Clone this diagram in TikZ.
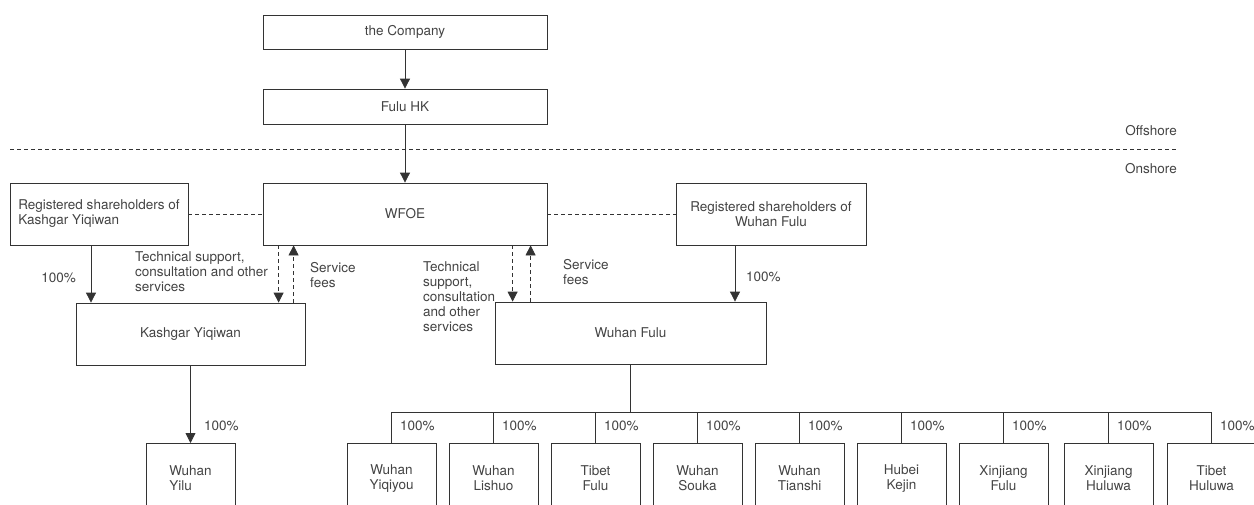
\documentclass[tikz,border=0pt]{standalone}
\usepackage{fontspec}
\setmainfont{TeX Gyre Heros}
\usetikzlibrary{arrows.meta}
\definecolor{ln}{HTML}{333333}
\definecolor{tx}{HTML}{444444}
\begin{document}
\begin{tikzpicture}[x=1pt,y=-1pt,bx/.style={draw=ln,line width=0.8pt,fill=white,text=tx,inner sep=2pt,align=center,font=\fontsize{13.5}{15}\selectfont},lb/.style={text=tx,inner sep=0pt,align=left,font=\fontsize{13.5}{15}\selectfont},ch/.style={bx,minimum width=89pt,minimum height=70pt,anchor=north},ar/.style={draw=ln,line width=0.8pt,-{Triangle[length=10pt,width=10pt]}},dl/.style={draw=ln,line width=0.8pt,dash pattern=on 4pt off 3pt},da/.style={dl,-{Triangle[length=10pt,width=10pt]}}]
\useasboundingbox (0,0) rectangle (1254,504);
\clip (0,0) rectangle (1254,504);
\fill[white] (0,0) rectangle (1254,504);

% top of the chart
\node[bx,minimum width=284pt,minimum height=34pt] (comp) at (405,32) {the Company};
\node[bx,minimum width=284pt,minimum height=35pt] (hk) at (405,106.5) {Fulu HK};
\node[bx,minimum width=284pt,minimum height=62pt] (wfoe) at (405,214) {WFOE};
\node[bx,minimum width=178pt,minimum height=62pt,align=left] (regk) at (99,214) {Registered shareholders of\\Kashgar Yiqiwan};
\node[bx,minimum width=190pt,minimum height=62pt] (regw) at (771,214) {Registered shareholders of\\Wuhan Fulu};
\node[bx,minimum width=229pt,minimum height=62pt] (kash) at (190.5,334) {Kashgar Yiqiwan};
\node[bx,minimum width=271pt,minimum height=62pt] (wfulu) at (630.5,333) {Wuhan Fulu};

% offshore / onshore
\coordinate (sl) at (10,149);
\coordinate (sr) at (1176,149);
\draw[dl] (sl) -- (sr);
\node[lb,anchor=east] (off) at (1177,131) {Offshore};
\node[lb,anchor=east] (on) at (1177,169) {Onshore};

\draw[ar] (comp) -- (hk);
\draw[ar] (hk) -- (wfoe);
\draw[dl] (regk) -- (wfoe);
\draw[dl] (wfoe) -- (regw);

% Kashgar Yiqiwan side
\draw[ar] ([xshift=-8pt]regk.south) -- ([xshift=-8pt]regk.south |- kash.north);
\draw[da] ([xshift=16pt]wfoe.south west) -- ([xshift=16pt]wfoe.south west |- kash.north);
\draw[da] ([xshift=31pt]wfoe.south west |- kash.north) -- ([xshift=31pt]wfoe.south west);
\node[lb,anchor=east] (pk) at (76,278) {100\%};
\node[lb,anchor=west] (tk) at (135,272) {Technical support,\\consultation and other\\services};
\node[lb,anchor=west] (fk) at (310,275.5) {Service\\fees};

% Wuhan Fulu side
\draw[ar] ([xshift=-36pt]regw.south) -- ([xshift=-36pt]regw.south |- wfulu.north);
\draw[da] ([xshift=18pt]wfulu.north west |- wfoe.south) -- ([xshift=18pt]wfulu.north west);
\draw[da] ([xshift=36pt]wfulu.north west) -- ([xshift=36pt]wfulu.north west |- wfoe.south);
\node[lb,anchor=west] (pw) at (746,277) {100\%};
\node[lb,anchor=west] (tw) at (423,296.5) {Technical\\support,\\consultation\\and other\\services};
\node[lb,anchor=west] (fw) at (563,272.5) {Service\\fees};

% subsidiaries
\node[ch,align=left] (yilu) at (190.5,443) {Wuhan\\Yilu};
\draw[ar] (kash) -- (yilu);
\node[lb,anchor=west] (py) at (204,426) {100\%};

\node[ch] (c1) at (391.5,443) {Wuhan\\Yiqiyou};
\node[ch] (c2) at (493.5,443) {Wuhan\\Lishuo};
\node[ch] (c3) at (595.5,443) {Tibet\\Fulu};
\node[ch] (c4) at (697.5,443) {Wuhan\\Souka};
\node[ch] (c5) at (799.5,443) {Wuhan\\Tianshi};
\node[ch] (c6) at (901.5,443) {Hubei\\Kejin};
\node[ch] (c7) at (1003.5,443) {Xinjiang\\Fulu};
\node[ch] (c8) at (1108.5,443) {Xinjiang\\Huluwa};
\node[ch] (c9) at (1211.5,443) {Tibet\\Huluwa};

\coordinate (bus) at (0,412);
\draw[draw=ln,line width=0.8pt] (wfulu.south) -- (wfulu.south |- bus);
\draw[draw=ln,line width=0.8pt] (c1.north |- bus) -- (c9.north |- bus);
\draw[draw=ln,line width=0.8pt] (c1.north |- bus) -- (c1.north);
\draw[draw=ln,line width=0.8pt] (c2.north |- bus) -- (c2.north);
\draw[draw=ln,line width=0.8pt] (c3.north |- bus) -- (c3.north);
\draw[draw=ln,line width=0.8pt] (c4.north |- bus) -- (c4.north);
\draw[draw=ln,line width=0.8pt] (c5.north |- bus) -- (c5.north);
\draw[draw=ln,line width=0.8pt] (c6.north |- bus) -- (c6.north);
\draw[draw=ln,line width=0.8pt] (c7.north |- bus) -- (c7.north);
\draw[draw=ln,line width=0.8pt] (c8.north |- bus) -- (c8.north);
\draw[draw=ln,line width=0.8pt] (c9.north |- bus) -- (c9.north);

\node[lb,anchor=west] (p1) at (400,426) {100\%};
\node[lb,anchor=west] (p2) at (502,426) {100\%};
\node[lb,anchor=west] (p3) at (604,426) {100\%};
\node[lb,anchor=west] (p4) at (706,426) {100\%};
\node[lb,anchor=west] (p5) at (808,426) {100\%};
\node[lb,anchor=west] (p6) at (910,426) {100\%};
\node[lb,anchor=west] (p7) at (1012,426) {100\%};
\node[lb,anchor=west] (p8) at (1117,426) {100\%};
\node[lb,anchor=west] (p9) at (1220,426) {100\%};

\end{tikzpicture}
\end{document}
